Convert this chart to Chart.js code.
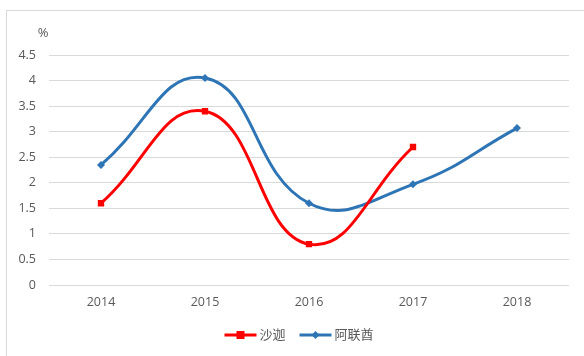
<!DOCTYPE html>
<html><head><meta charset="utf-8">
<script src="https://cdn.jsdelivr.net/npm/chart.js@4/dist/chart.umd.min.js"></script>
<style>
html,body{margin:0;padding:0;background:#fff;}
#wrap{position:absolute;left:0;top:0;width:584px;height:356px;}
#frame{position:absolute;left:6px;top:10px;width:580px;height:360px;border:1px solid #d9d9d9;box-sizing:border-box;}
</style></head>
<body>
<div id="frame"></div>
<div id="wrap"><canvas id="c" width="584" height="356"></canvas></div>
<script>
const years = ['2014','2015','2016','2017','2018'];
const sharjah = [1.6, 3.4, 0.8, 2.7, null];
const uae = [2.35, 4.05, 1.6, 1.97, 3.07];
const seriesNames = ['沙迦','阿联酋'];
const yUnit = '%';

const FONT = "'Open Sans','Noto Sans CJK SC',sans-serif";
const TXT = '#595959';
const RED = '#ff0000', BLUE = '#2e75b6';

const extras = {
  id:'extras',
  afterDraw(chart){
    const ctx = chart.ctx;
    ctx.save();
    ctx.fillStyle = TXT;
    ctx.font = "13px " + FONT;
    ctx.textAlign = 'center';
    ctx.textBaseline = 'middle';
    ctx.fillText(yUnit, 43, 33);
    // legend
    const items = chart.data.datasets.map(d => ({label:d.label, color:d.borderColor, style:d.pointStyle}));
    ctx.font = "13px " + FONT;
    const sw = 32, gap = 3, sep = 14;
    let total = 0;
    items.forEach((it,i)=>{ total += sw + gap + ctx.measureText(it.label).width + (i<items.length-1?sep:0); });
    let x = 299 - total/2;
    const ly = 335;
    items.forEach(it=>{
      ctx.strokeStyle = it.color; ctx.lineWidth = 3;
      ctx.beginPath(); ctx.moveTo(x, ly); ctx.lineTo(x+sw, ly); ctx.stroke();
      ctx.fillStyle = it.color;
      const cx = x + sw/2;
      if (it.style === 'rect'){ ctx.fillRect(cx-4, ly-4, 8, 8); }
      else { ctx.beginPath(); ctx.moveTo(cx, ly-4); ctx.lineTo(cx+4, ly); ctx.lineTo(cx, ly+4); ctx.lineTo(cx-4, ly); ctx.closePath(); ctx.fill(); }
      ctx.fillStyle = TXT; ctx.textAlign='left';
      ctx.fillText(it.label, x+sw+gap, ly);
      x += sw + gap + ctx.measureText(it.label).width + sep;
    });
    ctx.restore();
  }
};

new Chart(document.getElementById('c'), {
  type:'line',
  data:{
    labels: years,
    datasets:[
      {label:seriesNames[0], data:sharjah, borderColor:RED, backgroundColor:RED, borderWidth:3,
       pointStyle:'rect', pointRadius:4.5, pointBorderWidth:0, tension:0.45, spanGaps:false},
      {label:seriesNames[1], data:uae, borderColor:BLUE, backgroundColor:BLUE, borderWidth:3,
       pointStyle:'rectRot', pointRadius:4, pointBorderWidth:0, tension:0.45}
    ]
  },
  options:{
    responsive:false, animation:false, devicePixelRatio:1,
    layout:{padding:{left:0, right:15, top:55, bottom:41}},
    plugins:{legend:{display:false}, tooltip:{enabled:false}},
    scales:{
      x:{
        offset:true,
        grid:{display:false, drawTicks:false},
        border:{display:false},
        ticks:{color:TXT, font:{family:FONT, size:12.5}, padding:10, maxRotation:0},
        afterFit(s){ s.height = 30; }
      },
      y:{
        min:0, max:4.5,
        grid:{color:'#d9d9d9', lineWidth:1, drawTicks:false},
        border:{display:false},
        ticks:{stepSize:0.5, color:TXT, font:{family:FONT, size:12.5}, padding:13,
               callback:v => Number(v).toString()},
        afterFit(s){ s.width = 49; }
      }
    }
  },
  plugins:[extras]
});
</script>
</body></html>
